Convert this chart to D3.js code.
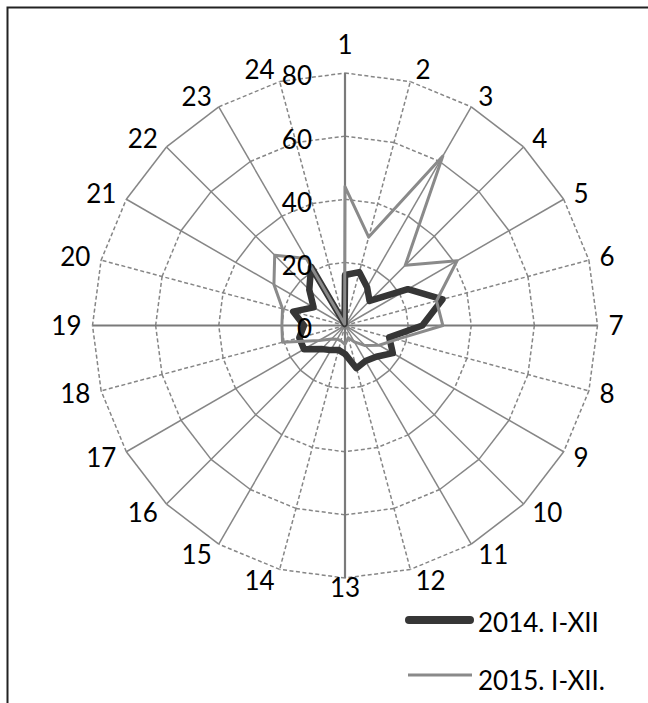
<!DOCTYPE html>
<html><head><meta charset="utf-8">
<script src="https://cdn.jsdelivr.net/npm/d3@7"></script>
<style>body{margin:0;background:#fff}</style>
</head><body>
<svg id="c" width="648" height="703"></svg>
<script>
const categories = ["1","2","3","4","5","6","7","8","9","10","11","12","13","14","15","16","17","18","19","20","21","22","23","24"];
const values2014 = [16,17.5,14,11,23,32,24.5,14.5,17.5,14,13,14,9,8,9,10.5,15,15,13,17,11.5,16,21.5,0.5];
const values2015 = [44,29,62,27,41,30,31,17,12.5,9,6,4,6,5,5,6,9.5,20.5,20,20.5,26,31.5,24.5,0.5];
const ringTicks = [0,20,40,60,80];
const seriesNames = ["2014. I-XII","2015. I-XII."];

const W=648,H=703,cx=345,cy=325.5,R=252.5;
const FONT="Lato, 'Open Sans', sans-serif", FS=26;
const svg=d3.select("#c");
svg.append("rect").attr("width",W).attr("height",H).attr("fill","#fff");
svg.append("path").attr("d",`M7.5,${H} V7.5 H${W}`).attr("fill","none").attr("stroke","#222").attr("stroke-width",2);

const r=d3.scaleLinear().domain([0,80]).range([0,R]);
const angle=d3.scaleLinear().domain([0,categories.length]).range([0,2*Math.PI]);
const g=svg.append("g").attr("transform",`translate(${cx},${cy})`);
const pt=(i,v)=>[Math.sin(angle(i))*r(v),-Math.cos(angle(i))*r(v)];
function offAxis(p,q){const a=Math.abs(Math.atan2(q[1]-p[1],q[0]-p[0]))*180/Math.PI%90;return Math.min(a,90-a);}
const gridCol="#868686";
const grid=g.append("g");
ringTicks.filter(t=>t>0).forEach(t=>{
  categories.forEach((c,i)=>{
    const p=pt(i,t),q=pt(i+1,t);
    const dashed=offAxis(p,q)<27;
    grid.append("line").attr("x1",p[0]).attr("y1",p[1]).attr("x2",q[0]).attr("y2",q[1])
      .attr("stroke",gridCol).attr("stroke-width",1.5).attr("stroke-dasharray",dashed?"4,2.5":null);
  });
});
categories.forEach((c,i)=>{
  const q=pt(i,80);
  const card=i%6===0;
  const dashed=!card&&offAxis([0,0],q)<27;
  grid.append("line").attr("x1",0).attr("y1",0).attr("x2",q[0]).attr("y2",q[1])
    .attr("stroke",card?"#7a7a7a":gridCol).attr("stroke-width",card?2.2:1.5).attr("stroke-dasharray",dashed?"4,2.5":null);
});
const line=d3.lineRadial().angle((d,i)=>angle(i)).radius(d=>r(d)).curve(d3.curveLinearClosed);
g.append("path").datum(values2014).attr("d",line).attr("fill","none").attr("stroke","#363636").attr("stroke-width",6.5).attr("stroke-linejoin","round");
g.append("path").datum(values2015).attr("d",line).attr("fill","none").attr("stroke","#8a8a8a").attr("stroke-width",3).attr("stroke-linejoin","round");
ringTicks.forEach(t=>{
  g.append("text").attr("x",-33).attr("y",-r(t)+3+0.36*FS).attr("text-anchor","end")
   .attr("font-family",FONT).attr("font-size",FS).attr("fill","#000").text(t);
});
categories.forEach((c,i)=>{
  const th=angle(i),s=Math.sin(th),co=Math.cos(th);
  const e=pt(i,80);
  const t=g.append("text").attr("text-anchor","middle").attr("font-family",FONT).attr("font-size",FS).attr("fill","#000").text(c);
  const hw=t.node().getComputedTextLength()/2;
  let x,y;
  if(Math.abs(s)<0.01){x=e[0];y=e[1]+(co>0?-28.5:10);}
  else{x=e[0]+Math.sign(s)*(hw+3+8*Math.abs(s));y=e[1]-co*12;}
  t.attr("x",x).attr("y",y+0.36*FS);
});
const leg=svg.append("g");
leg.append("line").attr("x1",409).attr("x2",470).attr("y1",620).attr("y2",620).attr("stroke","#363636").attr("stroke-width",8).attr("stroke-linecap","round");
leg.append("text").attr("x",478).attr("y",632).attr("font-family",FONT).attr("font-size",FS).attr("fill","#000").text(seriesNames[0]);
leg.append("line").attr("x1",408).attr("x2",472).attr("y1",675).attr("y2",675).attr("stroke","#8a8a8a").attr("stroke-width",3);
leg.append("text").attr("x",478).attr("y",690).attr("font-family",FONT).attr("font-size",FS).attr("fill","#000").text(seriesNames[1]);
</script>
</body></html>
